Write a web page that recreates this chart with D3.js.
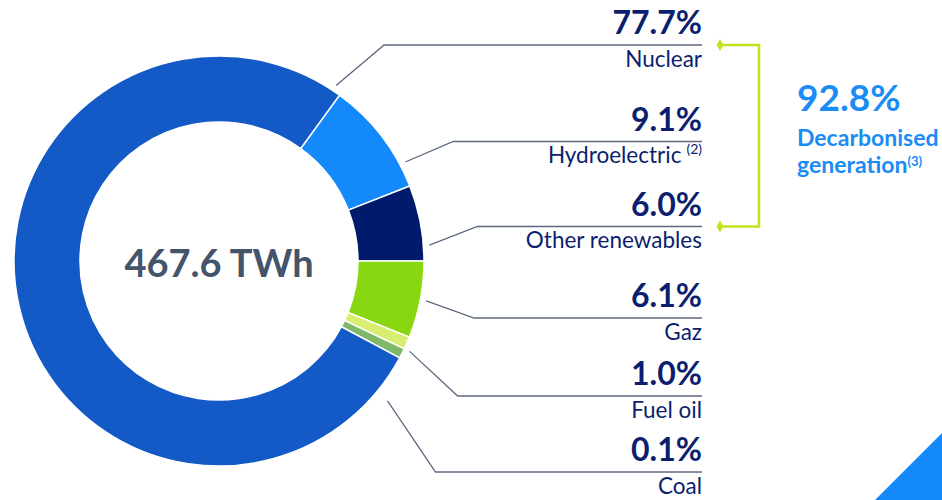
<!DOCTYPE html>
<html>
<head>
<meta charset="utf-8">
<script src="https://cdn.jsdelivr.net/npm/d3@7"></script>
<style>
  body { margin: 0; background: #fff; }
  svg { display: block; font-family: Lato, "Open Sans", sans-serif; }
</style>
</head>
<body>
<svg id="chart" width="942" height="500"></svg>
<script>
// data
const sources = ["Hydroelectric", "Other renewables", "Gaz", "Fuel oil", "Coal", "Nuclear"];
const shares = [9.1, 6.0, 6.1, 1.0, 0.1, 77.7];
const notes = ["(2)", "", "", "", "", ""];
const colors = ["#1389fb", "#001b6c", "#88d711", "#d8ee70", "#7db966", "#135ac6"];
const totalTWh = "467.6 TWh";
const decarbonised = ["Nuclear", "Hydroelectric", "Other renewables"];

// label order on the right (top to bottom)
const labelOrder = ["Nuclear", "Hydroelectric", "Other renewables", "Gaz", "Fuel oil", "Coal"];
const labelLineY = [45, 141.5, 226.5, 318, 396, 472];

const svg = d3.select("#chart");
const cx = 219, cy = 261, R = 205, r = 139;
const navy = "#0b1f6e";

const data = sources.map((s, i) => ({name: s, value: shares[i], note: notes[i], color: colors[i]}));

const pie = d3.pie()
    .sort(null)
    .value(d => Math.max(d.value, 0.8))   // keep the tiny slice visible
    .startAngle(36 * Math.PI / 180)
    .endAngle((36 + 360) * Math.PI / 180);

const arc = d3.arc().innerRadius(r).outerRadius(R);
const arcs = pie(data);

const g = svg.append("g").attr("transform", `translate(${cx},${cy})`);

g.selectAll("path")
    .data(arcs)
    .join("path")
    .attr("d", arc)
    .attr("fill", d => d.data.color)
    .attr("stroke", "#fff")
    .attr("stroke-width", 1.5);

// center total
g.append("text")
    .attr("text-anchor", "middle")
    .attr("y", 16)
    .attr("font-size", 38)
    .attr("font-weight", 700)
    .attr("fill", "#44546a")
    .text(totalTWh);

// where each leader line touches the ring
function anchorAngle(a) {
    const span = a.endAngle - a.startAngle;
    switch (a.data.name) {
        case "Nuclear": return a.endAngle - 0.04;
        case "Hydroelectric":
        case "Other renewables": return a.startAngle + 0.8 * span;
        case "Gaz": return a.startAngle + 0.5 * span;
        case "Fuel oil": return a.endAngle;
        default: return a.endAngle + 0.2;
    }
}

const rightX = 702;
const point = (ang, rad) => [cx + rad * Math.sin(ang), cy - rad * Math.cos(ang)];

labelOrder.forEach((name, i) => {
    const a = arcs.find(d => d.data.name === name);
    const p = point(anchorAngle(a), name === "Coal" ? R + 14 : R + 6);
    const ly = labelLineY[i];
    const startX = p[0] + 48;

    svg.append("polyline")
        .attr("points", [[p[0], p[1]], [startX, ly], [rightX, ly]].map(q => q.join(",")).join(" "))
        .attr("fill", "none")
        .attr("stroke", "#5d6880")
        .attr("stroke-width", 1.3);

    svg.append("text")
        .attr("x", rightX)
        .attr("y", ly - 11)
        .attr("text-anchor", "end")
        .attr("font-size", 32)
        .attr("font-weight", 700)
        .attr("fill", navy)
        .text(d3.format(".1f")(a.data.value) + "%");

    const t = svg.append("text")
        .attr("x", rightX)
        .attr("y", ly + 21.5)
        .attr("text-anchor", "end")
        .attr("font-size", 22.5)
        .attr("fill", navy)
        .text(name);
    if (a.data.note) {
        t.append("tspan").attr("font-size", 14).attr("dx", 5).attr("dy", -9).text(a.data.note);
    }
});

// bracket for decarbonised generation
const bx0 = 720, bx1 = 759, by0 = labelLineY[0], by1 = labelLineY[2];
svg.append("polyline")
    .attr("points", `${bx0},${by0} ${bx1},${by0} ${bx1},${by1} ${bx0},${by1}`)
    .attr("fill", "none")
    .attr("stroke", "#c3e21b")
    .attr("stroke-width", 2.5);
[by0, by1].forEach(y => {
    svg.append("path")
        .attr("d", d3.symbol(d3.symbolDiamond, 40)())
        .attr("transform", `translate(${bx0},${y})`)
        .attr("fill", "#c3e21b");
});

const decarb = d3.sum(data.filter(d => decarbonised.includes(d.name)), d => d.value);
const blue = "#1a8cf5";
svg.append("text")
    .attr("x", 797).attr("y", 111)
    .attr("font-size", 37).attr("font-weight", 700).attr("fill", blue)
    .text(d3.format(".1f")(decarb) + "%");
svg.append("text")
    .attr("x", 797).attr("y", 146)
    .attr("font-size", 23).attr("font-weight", 700).attr("fill", blue)
    .text("Decarbonised");
const gen = svg.append("text")
    .attr("x", 797).attr("y", 173)
    .attr("font-size", 23).attr("font-weight", 700).attr("fill", blue)
    .text("generation");
gen.append("tspan").attr("font-size", 13).attr("dy", -7).text("(3)");

// corner triangle
svg.append("path")
    .attr("d", "M875,500 L942,433 L942,500 Z")
    .attr("fill", "#1389fb");
</script>
</body>
</html>
